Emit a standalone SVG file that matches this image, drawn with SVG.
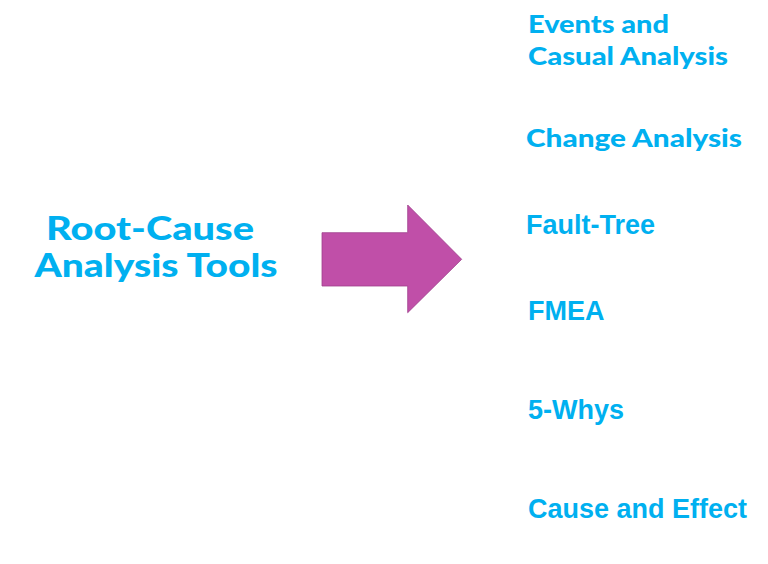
<svg xmlns="http://www.w3.org/2000/svg" width="768" height="564" viewBox="0 0 768 564">
<style>
.t{fill:#00B0F0;font-family:Lato,"Noto Sans",sans-serif;font-weight:900}
.a{fill:#00B0F0;font-family:"Liberation Sans",Arial,sans-serif;font-weight:700;font-size:27px}
</style>
<rect width="768" height="564" fill="#fff"/>
<g id="title">
<text class="t" x="150" y="240" font-size="32" text-anchor="middle" textLength="208" lengthAdjust="spacingAndGlyphs">Root-Cause</text>
<text class="t" x="156" y="277" font-size="32" text-anchor="middle" textLength="243" lengthAdjust="spacingAndGlyphs">Analysis Tools</text>
</g>
<g id="connectors">
<path id="arrow" d="M322,232.7 H407.7 V205 L461.7,259.3 L407.7,312.7 V286 H322 Z" fill="#C04FA8" stroke="#9E3F8C" stroke-width="0.8"/>
</g>
<g id="n1"><text class="t" x="528" y="33" font-size="25" textLength="141" lengthAdjust="spacingAndGlyphs">Events and</text>
<text class="t" x="528" y="65" font-size="25" textLength="200" lengthAdjust="spacingAndGlyphs">Casual Analysis</text></g>
<g id="n2"><text class="t" x="526" y="147" font-size="25" textLength="216" lengthAdjust="spacingAndGlyphs">Change Analysis</text></g>
<g id="n3"><text class="a" x="526" y="234">Fault-Tree</text></g>
<g id="n4"><text class="a" x="528" y="320">FMEA</text></g>
<g id="n5"><text class="a" x="528" y="419">5-Whys</text></g>
<g id="n6"><text class="a" x="528" y="518">Cause and Effect</text></g>
</svg>
